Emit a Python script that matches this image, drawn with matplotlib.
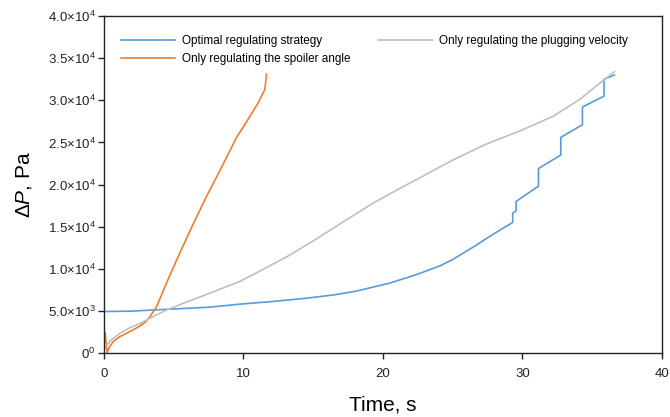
import matplotlib
matplotlib.use("Agg")
import matplotlib.pyplot as plt
from matplotlib.ticker import FixedLocator, FixedFormatter

plt.rcParams['font.family'] = ['Liberation Sans', 'DejaVu Sans']
plt.rcParams['mathtext.fontset'] = 'custom'
plt.rcParams['mathtext.rm'] = 'Liberation Sans'
plt.rcParams['mathtext.it'] = 'Liberation Sans:italic'

# Optimal regulating strategy (time s, dP in units of 1e3 Pa)
opt_t = [0, 2, 4.7, 7.6, 9.75, 12, 14.5, 16.5, 18.1, 20.5, 22.4, 24.1, 25.0, 26.5, 28.0,
         29.3, 29.3, 29.55, 29.55, 31.15, 31.15, 32.75, 32.75, 34.3, 34.3, 35.85, 35.85, 36.6]
opt_p = [4.92, 4.97, 5.2, 5.44, 5.8, 6.1, 6.5, 6.9, 7.35, 8.3, 9.3, 10.35, 11.1, 12.6, 14.2,
         15.5, 16.6, 16.9, 18.0, 19.8, 21.9, 23.5, 25.6, 27.1, 29.2, 30.5, 32.5, 33.0]

# Only regulating the plugging velocity
vel_t = [0.05, 0.14, 0.5, 1.15, 1.8, 2.58, 3.5, 4.49, 6.0, 7.6, 9.75, 11.5, 13.3, 15.0, 16.9,
         19.3, 21.0, 22.65, 25.0, 27.4, 29.8, 32.2, 34.1, 35.6, 36.6]
vel_p = [0.5, 0.75, 1.5, 2.34, 2.95, 3.5, 4.3, 5.1, 6.1, 7.1, 8.5, 10.0, 11.6, 13.3, 15.3,
         17.8, 19.35, 20.8, 22.9, 24.8, 26.35, 28.1, 30.1, 32.1, 33.4]

# Only regulating the spoiler angle
ang_t = [0.1, 0.14, 0.24, 0.4, 0.67, 1.1, 1.62, 2.1, 2.58, 3.0, 3.3, 3.78, 4.49, 5.45,
         6.4, 7.36, 8.3, 9.0, 9.51, 9.75, 10.4, 11.06, 11.54, 11.66]
ang_p = [2.4, 1.5, 0.05, 0.7, 1.35, 1.9, 2.34, 2.75, 3.2, 3.7, 4.3, 5.5, 8.3, 11.9,
         15.3, 18.6, 21.6, 23.9, 25.6, 26.2, 27.9, 29.7, 31.3, 33.1]

y_ticks = [0, 5, 10, 15, 20, 25, 30, 35, 40]
y_labels = [r'0$^{0}$', r'5.0$\times$10$^{3}$', r'1.0$\times$10$^{4}$', r'1.5$\times$10$^{4}$',
            r'2.0$\times$10$^{4}$', r'2.5$\times$10$^{4}$', r'3.0$\times$10$^{4}$',
            r'3.5$\times$10$^{4}$', r'4.0$\times$10$^{4}$']
x_ticks = [0, 10, 20, 30, 40]

fig = plt.figure(figsize=(6.7, 4.17), dpi=100)
ax = fig.add_axes([0.155, 0.1535, 0.833, 0.808])

lw = 1.2
l1, = ax.plot(opt_t, opt_p, color='#5B9BD5', lw=lw, label='Optimal regulating strategy')
l2, = ax.plot(ang_t, ang_p, color='#ED7D31', lw=lw, label='Only regulating the spoiler angle')
l3, = ax.plot(vel_t, vel_p, color='#BFBFBF', lw=lw, label='Only regulating the plugging velocity')

ax.set_xlim(0, 40)
ax.set_ylim(0, 40)
ax.yaxis.set_major_locator(FixedLocator(y_ticks))
ax.yaxis.set_major_formatter(FixedFormatter(y_labels))
ax.set_xticks(x_ticks)
ax.tick_params(axis='both', direction='out', length=4, width=1, labelsize=9.5, colors='#222222')
ax.tick_params(axis='x', pad=7)
ax.tick_params(axis='y', pad=2)
for s in ax.spines.values():
    s.set_color('#222222')
    s.set_linewidth(1.0)

ax.set_xlabel('Time, s', fontsize=15)
ax.xaxis.set_label_coords(0.5, -0.125)
ax.set_ylabel(r'$\Delta P$, Pa', fontsize=15)
ax.yaxis.set_label_coords(-0.125, 0.5)

leg = ax.legend(handles=[l1, l2, l3], ncol=2, frameon=False, fontsize=8.5,
                loc='upper left', bbox_to_anchor=(0.012, 0.975), handlelength=4.6,
                handletextpad=0.55, columnspacing=2.35, labelspacing=0.5)

fig.savefig('out.png', dpi=100)
